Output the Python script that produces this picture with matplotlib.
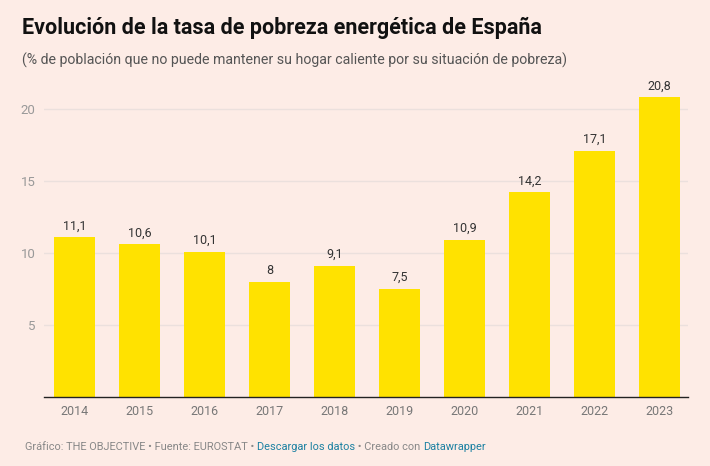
import numpy as np
import matplotlib
matplotlib.use('Agg')
import matplotlib.pyplot as plt

years = ['2014', '2015', '2016', '2017', '2018', '2019', '2020', '2021', '2022', '2023']
values = [11.1, 10.6, 10.1, 8.0, 9.1, 7.5, 10.9, 14.2, 17.1, 20.8]
yticks = [5, 10, 15, 20]

bg = '#fdece6'
plt.rcParams['font.family'] = ['Roboto', 'DejaVu Sans']

fig = plt.figure(figsize=(7.1, 4.66), dpi=100)
fig.patch.set_facecolor(bg)

W, H = 710, 466
# axes box in pixels: left 44, right 688, bottom 397, top 95
ax = fig.add_axes([44 / W, (H - 397) / H, (688 - 44) / W, (397 - 95) / H])
ax.set_facecolor(bg)

x = np.arange(len(years))
ax.bar(x, values, width=0.63, color='#ffe200', zorder=2)
ax.set_xlim(-0.47, 9.44)
ax.set_ylim(0, 20.97)

for yt in yticks:
    ax.axhline(yt, color='#ebe0dd', linewidth=1, zorder=1)

for xi, v in zip(x, values):
    lab = ('%g' % v).replace('.', ',')
    ax.annotate(lab, (xi, v), xytext=(0, 3.5), textcoords='offset points',
                ha='center', va='bottom', fontsize=9, color='#333333')

for s in ['top', 'right', 'left']:
    ax.spines[s].set_visible(False)
ax.spines['bottom'].set_color('#222222')
ax.spines['bottom'].set_linewidth(1)

ax.set_xticks(x)
ax.set_xticklabels(years, fontsize=9, color='#777777')
ax.set_yticks(yticks)
ax.set_yticklabels([str(t) for t in yticks], fontsize=9.5, color='#999999')
ax.tick_params(axis='both', length=0)
ax.tick_params(axis='x', pad=6)
ax.tick_params(axis='y', pad=6)

fig.text(22 / W, 1 - 28 / H, 'Evolución de la tasa de pobreza energética de España',
         fontsize=15.5, fontweight='bold', color='#111111', va='center', ha='left')
fig.text(22 / W, 1 - 60 / H,
         '(% de población que no puede mantener su hogar caliente por su situación de pobreza)',
         fontsize=10.2, color='#555555', va='center', ha='left')

# footer with mixed colours
parts = [('Gráfico: THE OBJECTIVE • Fuente: EUROSTAT • ', '#888888'),
         ('Descargar los datos', '#1d81a2'),
         (' • Creado con ', '#888888'),
         ('Datawrapper', '#1d81a2')]
renderer = fig.canvas.get_renderer()
xpos = 25
for txt, col in parts:
    t = fig.text(xpos / W, 1 - 447 / H, txt, fontsize=7.9, color=col, va='center', ha='left')
    bb = t.get_window_extent(renderer=renderer)
    xpos += bb.width

fig.savefig('out.png', dpi=100, facecolor=bg)
